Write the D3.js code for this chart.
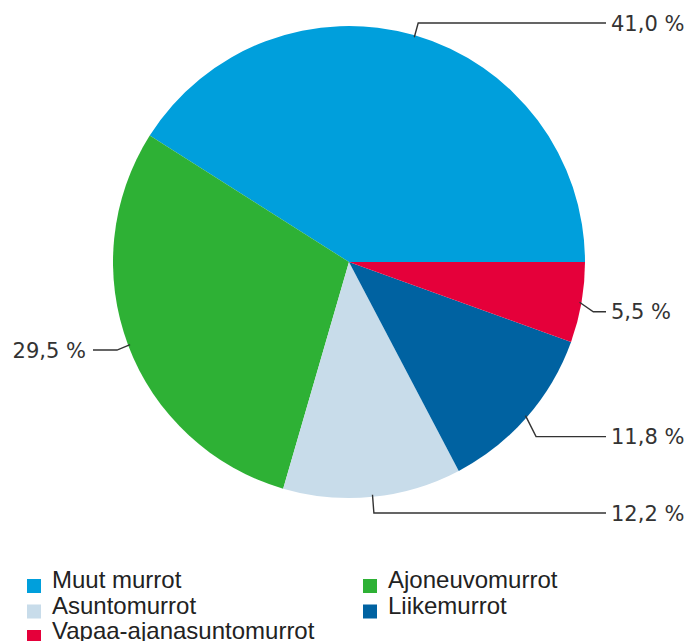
<!DOCTYPE html>
<html>
<head>
<meta charset="utf-8">
<script src="https://cdn.jsdelivr.net/npm/d3@7"></script>
<style>
  html, body { margin: 0; padding: 0; background: #fff; }
  svg { display: block; }
</style>
</head>
<body>
<script>
// data
var categories = ["Muut murrot", "Ajoneuvomurrot", "Asuntomurrot", "Liikemurrot", "Vapaa-ajanasuntomurrot"];
var shares     = [41.0, 29.5, 12.2, 11.8, 5.5];
var labels     = ["41,0 %", "29,5 %", "12,2 %", "11,8 %", "5,5 %"];
var colors     = ["#009fdc", "#2eb135", "#c8dcea", "#0062a1", "#e5003a"];

/* ---------- SVG INIT ---------- */
var width = 688, height = 641;
var cx = 349, cy = 262, r = 236;

var svg = d3.select("body").append("svg")
    .attr("width", width)
    .attr("height", height);

var rows = categories.map(function (c, i) { return { name: c, value: shares[i], label: labels[i], color: colors[i] }; });

// counter-clockwise from 3 o'clock
var pie = d3.pie()
    .sort(null)
    .value(function (d) { return d.value; })
    .startAngle(Math.PI / 2)
    .endAngle(Math.PI / 2 - 2 * Math.PI);

var arc = d3.arc().innerRadius(0).outerRadius(r);

var g = svg.append("g").attr("transform", "translate(" + cx + "," + cy + ")");

var arcs = pie(rows);

g.selectAll("path.slice")
    .data(arcs)
  .enter().append("path")
    .attr("class", "slice")
    .attr("d", arc)
    .attr("fill", function (d) { return d.data.color; });

/* ---------- LABELS ---------- */
var polar = function (a, rad) {   // d3 angle: 0 at 12 o'clock, clockwise
  return [rad * Math.sin(a), -rad * Math.cos(a)];
};

arcs.forEach(function (d) {
  var mid = (d.startAngle + d.endAngle) / 2;
  var p0 = polar(mid, r - 2);
  var pe = polar(mid, r + 12);
  var right = pe[0] >= 0;
  var ly = polar(mid, r + 30)[1];
  ly = Math.max(-239, Math.min(251, ly));
  // small nudges so labels sit like the original layout
  if (Math.abs(ly) < 120) ly += right ? 4 : -6;
  var xEnd = right ? 606 - cx : 93 - cx;

  g.append("path")
    .attr("d", "M" + p0[0] + "," + p0[1] + "L" + pe[0] + "," + ly + "L" + xEnd + "," + ly)
    .attr("fill", "none")
    .attr("stroke", "#333")
    .attr("stroke-width", 1.4);

  g.append("text")
    .attr("x", right ? xEnd + 5 : xEnd - 7)
    .attr("y", ly)
    .attr("dy", "0.36em")
    .attr("text-anchor", right ? "start" : "end")
    .style("font-family", "'DejaVu Sans', sans-serif")
    .style("font-size", "21px")
    .style("fill", "#333")
    .text(d.data.label);
});

/* ---------- LEGEND ---------- */
var legend = svg.append("g").attr("class", "legend");
var colX = [27, 363], rowY = [579, 604.5, 630];

var item = legend.selectAll("g.item")
    .data(rows)
  .enter().append("g")
    .attr("class", "item")
    .attr("transform", function (d, i) { return "translate(" + colX[i % 2] + "," + rowY[Math.floor(i / 2)] + ")"; });

item.append("rect")
    .attr("width", 14)
    .attr("height", 14)
    .attr("fill", function (d) { return d.color; });

item.append("text")
    .attr("x", 25)
    .attr("y", 9)
    .style("font-family", "'Liberation Sans', Arial, sans-serif")
    .style("font-size", "24px")
    .style("fill", "#222")
    .text(function (d) { return d.name; });
</script>
</body>
</html>
